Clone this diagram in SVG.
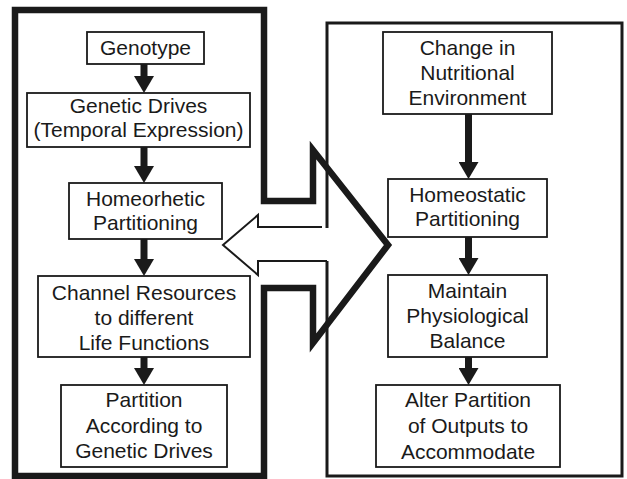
<svg xmlns="http://www.w3.org/2000/svg" width="627" height="479" viewBox="0 0 627 479">
<style>
.bg{fill:#fff}
.node rect{fill:#fff;stroke:#1a1a1a;stroke-width:1.8}
.node text{font-family:"Liberation Sans",Arial,sans-serif;font-size:21px;fill:#1a1a1a;text-anchor:middle}
.thick{fill:none;stroke:#1a1a1a;stroke-width:6.5;stroke-linejoin:miter;stroke-miterlimit:10}
.thin{fill:none;stroke:#1a1a1a;stroke-width:3}
.hollow{fill:#fff;stroke:#1a1a1a;stroke-width:2;stroke-linejoin:miter}
.conn line{stroke:#1a1a1a;stroke-width:7;marker-end:url(#head)}
</style>
<defs>
<marker id="head" markerUnits="userSpaceOnUse" markerWidth="17" markerHeight="20" refX="0" refY="10" orient="auto" viewBox="0 0 17 20">
<path d="M0,0 L17,10 L0,20 Z" fill="#1a1a1a"/>
</marker>
</defs>
<rect class="bg" x="0" y="0" width="627" height="479"/>
<g id="frames">
<path class="thick" d="M15,10 H264 V201 H313 V150 L388,245 L313,343 V288 H264 V476 H15 Z"/>
<path class="thin" d="M327,228 V23 H622 V476 H327 V261"/>
<path class="hollow" d="M322,227 H258 V215 L223,245 L258,275 V261 H327"/>
</g>
<g id="connectors" class="conn">
<line x1="144" y1="64" x2="144" y2="76"/>
<line x1="144" y1="147" x2="144" y2="166"/>
<line x1="144" y1="239" x2="144" y2="259"/>
<line x1="144" y1="357" x2="144" y2="368"/>
<line x1="468.5" y1="114" x2="468.5" y2="162"/>
<line x1="468.5" y1="237" x2="468.5" y2="258"/>
<line x1="468.5" y1="357" x2="468.5" y2="368"/>
</g>
<g id="genotype" class="node">
<rect x="87" y="32" width="117" height="32"/>
<text x="145.5" y="55">Genotype</text>
</g>
<g id="genetic-drives" class="node">
<rect x="27" y="93" width="223" height="54"/>
<text x="138.5" y="113">Genetic Drives</text>
<text x="138.5" y="137">(Temporal Expression)</text>
</g>
<g id="homeorhetic" class="node">
<rect x="69" y="183" width="153" height="56"/>
<text x="145.5" y="206">Homeorhetic</text>
<text x="145.5" y="230">Partitioning</text>
</g>
<g id="channel" class="node">
<rect x="38" y="276" width="212" height="81"/>
<text x="144" y="300">Channel Resources</text>
<text x="144" y="325">to different</text>
<text x="144" y="350">Life Functions</text>
</g>
<g id="partition" class="node">
<rect x="61" y="385" width="166" height="82"/>
<text x="144" y="407">Partition</text>
<text x="144" y="433">According to</text>
<text x="144" y="458">Genetic Drives</text>
</g>
<g id="change" class="node">
<rect x="383" y="32" width="169" height="82"/>
<text x="467.5" y="55">Change in</text>
<text x="467.5" y="80">Nutritional</text>
<text x="467.5" y="105">Environment</text>
</g>
<g id="homeostatic" class="node">
<rect x="388" y="179" width="159" height="58"/>
<text x="467.5" y="202">Homeostatic</text>
<text x="467.5" y="226">Partitioning</text>
</g>
<g id="maintain" class="node">
<rect x="388" y="275" width="159" height="82"/>
<text x="467.5" y="298">Maintain</text>
<text x="467.5" y="323">Physiological</text>
<text x="467.5" y="348">Balance</text>
</g>
<g id="alter" class="node">
<rect x="376" y="385" width="184" height="82"/>
<text x="468" y="407">Alter Partition</text>
<text x="468" y="433">of Outputs to</text>
<text x="468" y="459">Accommodate</text>
</g>
</svg>
